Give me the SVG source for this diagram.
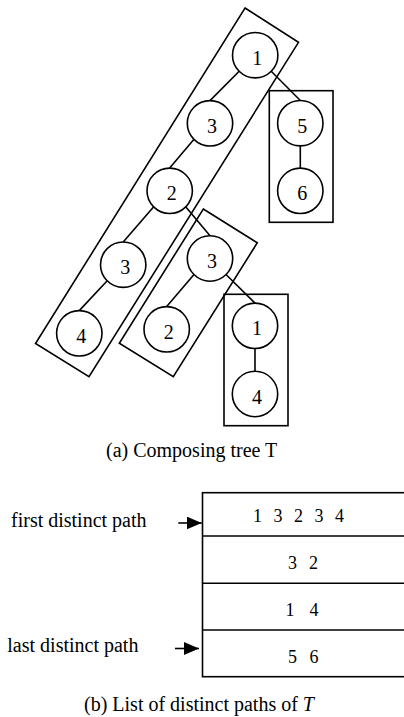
<svg xmlns="http://www.w3.org/2000/svg" width="404" height="717" viewBox="0 0 404 717">
  <style>
    .frame { fill: none; stroke: #000; stroke-width: 1.6; }
    .node circle { fill: #fff; stroke: #000; stroke-width: 1.6; }
    .node text, .lbl { font-family: "Liberation Serif", "Times New Roman", serif; fill: #000; }
    .node text { font-size: 20px; text-anchor: middle; }
    .edge { stroke: #000; stroke-width: 1.6; fill: none; }
    .cell { font-family: "Liberation Serif", "Times New Roman", serif; font-size: 18px; fill: #000; }
    .lbl { font-size: 20px; }
  </style>
  <defs>
    <marker id="arrowhead" markerWidth="16" markerHeight="14" refX="15" refY="6.5" orient="auto" markerUnits="userSpaceOnUse">
      <path d="M0,0 L15,6.5 L0,13 Z" fill="#000"/>
    </marker>
  </defs>
  <rect width="404" height="717" fill="#fff"/>

  <!-- path groupings of the composing tree -->
  <g id="groups">
    <polygon class="frame" points="245,8 298.5,42.3 89,376.7 35.5,343.5"/>
    <polygon class="frame" points="203.3,209 257.3,242.8 173.3,376.7 119.3,343.3"/>
    <rect class="frame" x="269.3" y="90.7" width="63.7" height="131.6"/>
    <rect class="frame" x="224" y="294.3" width="64" height="131.4"/>
  </g>

  <!-- tree edges -->
  <g id="edges">
    <line class="edge" x1="239.2" y1="71.2" x2="210" y2="100.6"/>
    <line class="edge" x1="271.2" y1="71.2" x2="300.3" y2="100.5"/>
    <line class="edge" x1="194" y1="139.3" x2="169.7" y2="168.1"/>
    <line class="edge" x1="300.3" y1="145.9" x2="300.3" y2="168.1"/>
    <line class="edge" x1="153.7" y1="206.8" x2="123.2" y2="242"/>
    <line class="edge" x1="185.7" y1="206.8" x2="210" y2="235.8"/>
    <line class="edge" x1="107.2" y1="280.7" x2="79.3" y2="310.6"/>
    <line class="edge" x1="194" y1="274.5" x2="166.7" y2="306.6"/>
    <line class="edge" x1="226" y1="274.5" x2="255" y2="303.1"/>
    <line class="edge" x1="255" y1="348.5" x2="255" y2="371.3"/>
  </g>

  <g id="n1" class="node"><circle cx="255.2" cy="55.2" r="22.7"/><text x="257.2" y="64.7">1</text></g>
  <g id="n3a" class="node"><circle cx="210" cy="123.3" r="22.7"/><text x="212" y="132.8">3</text></g>
  <g id="n2a" class="node"><circle cx="169.7" cy="190.8" r="22.7"/><text x="171.7" y="200.3">2</text></g>
  <g id="n3b" class="node"><circle cx="123.2" cy="264.7" r="22.7"/><text x="125.2" y="274.2">3</text></g>
  <g id="n4a" class="node"><circle cx="79.3" cy="333.3" r="22.7"/><text x="81.3" y="342.8">4</text></g>
  <g id="n3c" class="node"><circle cx="210" cy="258.5" r="22.7"/><text x="212" y="268">3</text></g>
  <g id="n2b" class="node"><circle cx="166.7" cy="329.3" r="22.7"/><text x="168.7" y="338.8">2</text></g>
  <g id="n1b" class="node"><circle cx="255" cy="325.8" r="22.7"/><text x="257" y="335.3">1</text></g>
  <g id="n4b" class="node"><circle cx="255" cy="394" r="22.7"/><text x="257" y="403.5">4</text></g>
  <g id="n5" class="node"><circle cx="300.3" cy="123.2" r="22.7"/><text x="302.3" y="132.7">5</text></g>
  <g id="n6" class="node"><circle cx="300.3" cy="190.8" r="22.7"/><text x="302.3" y="200.3">6</text></g>

  <text class="lbl" x="106" y="457">(a) Composing tree T</text>

  <!-- list of distinct paths -->
  <g id="path-list">
    <rect class="frame" x="202.5" y="492.7" width="210" height="184"/>
    <line class="edge" x1="202.5" y1="536" x2="404" y2="536"/>
    <line class="edge" x1="202.5" y1="583.3" x2="404" y2="583.3"/>
    <line class="edge" x1="202.5" y1="630" x2="404" y2="630"/>
    <text class="cell" x="253 273.5 294 314.5 335" y="521.7">13234</text>
    <text class="cell" x="288 309" y="569.3">32</text>
    <text class="cell" x="285.5 309.5" y="616.3">14</text>
    <text class="cell" x="288 309.5" y="663.3">56</text>
  </g>

  <g id="pointers">
    <text class="lbl" x="11" y="526.7">first distinct path</text>
    <line class="edge" x1="178.3" y1="523" x2="201.7" y2="523" marker-end="url(#arrowhead)"/>
    <text class="lbl" x="7.3" y="652.3">last distinct path</text>
    <line class="edge" x1="175" y1="648.5" x2="199" y2="648.5" marker-end="url(#arrowhead)"/>
  </g>

  <text class="lbl" x="84" y="711">(b) List of distinct paths of <tspan font-style="italic">T</tspan></text>
</svg>
